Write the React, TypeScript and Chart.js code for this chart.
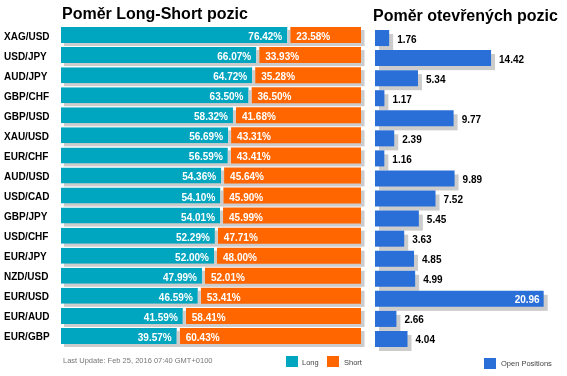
import React, { useEffect, useRef } from "react";
import { Chart, registerables } from "chart.js";

Chart.register(...registerables);

const categories = [
  "XAG/USD", "USD/JPY", "AUD/JPY", "GBP/CHF", "GBP/USD", "XAU/USD", "EUR/CHF", "AUD/USD",
  "USD/CAD", "GBP/JPY", "USD/CHF", "EUR/JPY", "NZD/USD", "EUR/USD", "EUR/AUD", "EUR/GBP",
];
const longValues = [76.42, 66.07, 64.72, 63.5, 58.32, 56.69, 56.59, 54.36, 54.1, 54.01, 52.29, 52.0, 47.99, 46.59, 41.59, 39.57];
const shortValues = [23.58, 33.93, 35.28, 36.5, 41.68, 43.31, 43.41, 45.64, 45.9, 45.99, 47.71, 48.0, 52.01, 53.41, 58.41, 60.43];
const openPositions = [1.76, 14.42, 5.34, 1.17, 9.77, 2.39, 1.16, 9.89, 7.52, 5.45, 3.63, 4.85, 4.99, 20.96, 2.66, 4.04];

const leftTitle = "Poměr Long-Short pozic";
const rightTitle = "Poměr otevřených pozic";
const footerText = "Last Update: Feb 25, 2016 07:40 GMT+0100";
const longLabel = "Long";
const shortLabel = "Short";
const openLabel = "Open Positions";

const TEAL = "#00a5bf";
const ORANGE = "#ff6600";
const BLUE = "#2a6fd8";
const SHADOW = "#cccccc";
const W = 567;
const H = 376;
const FONT = "Arial, 'Liberation Sans', Helvetica, sans-serif";

const leftPlugin = {
  id: "leftDecor",
  beforeDatasetsDraw(chart: any) {
    const ctx = chart.ctx;
    ctx.save();
    ctx.fillStyle = SHADOW;
    chart.data.datasets.forEach((_: any, di: number) => {
      const meta = chart.getDatasetMeta(di);
      meta.data.forEach((el: any) => {
        const l = Math.min(el.x, el.base);
        const r = Math.max(el.x, el.base);
        ctx.fillRect(l + 3, el.y - el.height / 2 + 3, r - l + 0.5, el.height);
      });
    });
    ctx.restore();
  },
  afterDatasetsDraw(chart: any) {
    const ctx = chart.ctx;
    const longMeta = chart.getDatasetMeta(0);
    const shortMeta = chart.getDatasetMeta(1);
    ctx.save();
    // shadow visible through the gap between long and short
    ctx.fillStyle = SHADOW;
    longMeta.data.forEach((el: any) => {
      const top = el.y - el.height / 2;
      ctx.fillRect(el.x - 3, top + 3, 3, el.height - 3);
    });
    ctx.textBaseline = "alphabetic";
    longMeta.data.forEach((el: any, i: number) => {
      ctx.font = "bold 10px " + FONT;
      ctx.fillStyle = "#000";
      ctx.textAlign = "left";
      ctx.fillText(categories[i], 4, el.y + 4.5);
      ctx.fillStyle = "#fff";
      ctx.textAlign = "right";
      ctx.fillText(longValues[i].toFixed(2) + "%", el.x - 8, el.y + 5);
      const s = shortMeta.data[i];
      ctx.textAlign = "left";
      ctx.fillText(shortValues[i].toFixed(2) + "%", s.base + 6, s.y + 5);
    });
    ctx.restore();
  },
  afterDraw(chart: any) {
    const ctx = chart.ctx;
    const area = chart.chartArea;
    ctx.save();
    ctx.textAlign = "left";
    ctx.textBaseline = "alphabetic";
    ctx.fillStyle = "#000";
    ctx.font = "bold 16px " + FONT;
    ctx.fillText(leftTitle, area.left + 1, 18.5);
    ctx.font = "7.5px " + FONT;
    ctx.fillStyle = "#777";
    ctx.fillText(footerText, area.left + 2, 363);
    ctx.fillStyle = TEAL;
    ctx.fillRect(286, 356, 12, 11);
    ctx.fillStyle = ORANGE;
    ctx.fillRect(327, 356, 12, 11);
    ctx.fillStyle = "#444";
    ctx.fillText(longLabel, 302, 364.5);
    ctx.fillText(shortLabel, 344, 364.5);
    ctx.restore();
  },
};

const rightPlugin = {
  id: "rightDecor",
  beforeDatasetsDraw(chart: any) {
    const ctx = chart.ctx;
    ctx.save();
    ctx.fillStyle = SHADOW;
    chart.getDatasetMeta(0).data.forEach((el: any) => {
      const l = Math.min(el.x, el.base);
      const r = Math.max(el.x, el.base);
      ctx.fillRect(l + 4, el.y - el.height / 2 + 4, r - l, el.height);
    });
    ctx.restore();
  },
  afterDatasetsDraw(chart: any) {
    const ctx = chart.ctx;
    ctx.save();
    ctx.font = "bold 10px " + FONT;
    ctx.textBaseline = "alphabetic";
    chart.getDatasetMeta(0).data.forEach((el: any, i: number) => {
      const txt = openPositions[i].toFixed(2);
      const w = ctx.measureText(txt).width;
      if (el.x + 8 + w > chart.width - 4) {
        ctx.fillStyle = "#fff";
        ctx.textAlign = "right";
        ctx.fillText(txt, el.x - 4, el.y + 4.5);
      } else {
        ctx.fillStyle = "#000";
        ctx.textAlign = "left";
        ctx.fillText(txt, el.x + 8, el.y + 4.5);
      }
    });
    ctx.restore();
  },
  afterDraw(chart: any) {
    const ctx = chart.ctx;
    const area = chart.chartArea;
    ctx.save();
    ctx.textAlign = "left";
    ctx.textBaseline = "alphabetic";
    ctx.fillStyle = "#000";
    ctx.font = "bold 16px " + FONT;
    ctx.fillText(rightTitle, area.left - 2, 21);
    ctx.fillStyle = BLUE;
    ctx.fillRect(484, 358, 12, 11);
    ctx.font = "7.5px " + FONT;
    ctx.fillStyle = "#444";
    ctx.fillText(openLabel, 501, 366);
    ctx.restore();
  },
};

export default function App() {
  const leftRef = useRef<HTMLCanvasElement>(null);
  const rightRef = useRef<HTMLCanvasElement>(null);

  useEffect(() => {
    const left = new Chart(leftRef.current as HTMLCanvasElement, {
      type: "bar",
      data: {
        labels: categories,
        datasets: [
          {
            label: longLabel,
            data: longValues,
            backgroundColor: TEAL,
            borderColor: "#ffffff",
            borderWidth: { top: 0, right: 3, bottom: 0, left: 0 },
            borderSkipped: false,
            categoryPercentage: 1,
            barPercentage: 0.8,
          },
          {
            label: shortLabel,
            data: shortValues,
            backgroundColor: ORANGE,
            borderWidth: 0,
            categoryPercentage: 1,
            barPercentage: 0.8,
          },
        ],
      },
      options: {
        indexAxis: "y",
        responsive: false,
        animation: false,
        events: [],
        layout: { padding: { left: 61, right: 206, top: 25, bottom: 30 } },
        scales: {
          x: { stacked: true, min: 0, max: 100, display: false },
          y: { stacked: true, display: false },
        },
        plugins: { legend: { display: false }, tooltip: { enabled: false }, title: { display: false } },
      },
      plugins: [leftPlugin],
    } as any);

    const right = new Chart(rightRef.current as HTMLCanvasElement, {
      type: "bar",
      data: {
        labels: categories,
        datasets: [
          {
            label: openLabel,
            data: openPositions,
            backgroundColor: BLUE,
            borderWidth: 0,
            categoryPercentage: 1,
            barPercentage: 0.8,
          },
        ],
      },
      options: {
        indexAxis: "y",
        responsive: false,
        animation: false,
        events: [],
        layout: { padding: { left: 375, right: 23, top: 28, bottom: 27 } },
        scales: {
          x: { min: 0, max: 21, display: false },
          y: { display: false },
        },
        plugins: { legend: { display: false }, tooltip: { enabled: false }, title: { display: false } },
      },
      plugins: [rightPlugin],
    } as any);

    return () => {
      left.destroy();
      right.destroy();
    };
  }, []);

  const canvasStyle: React.CSSProperties = { position: "absolute", left: 0, top: 0, width: W, height: H };
  return (
    <div style={{ position: "fixed", left: 0, top: 0, width: W, height: H, background: "#fff" }}>
      <canvas ref={leftRef} width={W} height={H} style={canvasStyle} />
      <canvas ref={rightRef} width={W} height={H} style={canvasStyle} />
    </div>
  );
}
